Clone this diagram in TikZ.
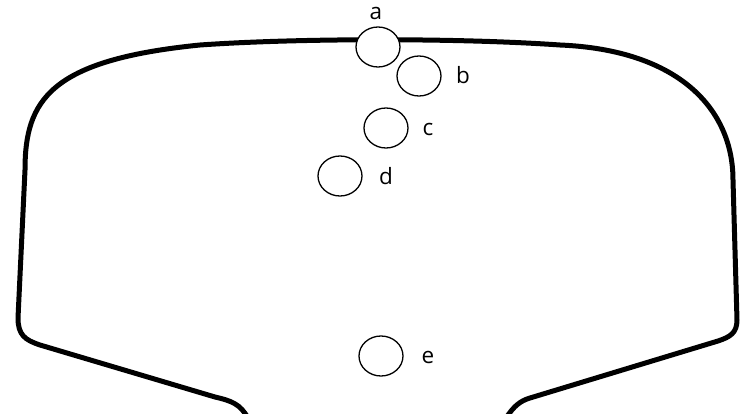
\documentclass[tikz,border=0pt]{standalone}
\usepackage{fontspec}
\setmainfont{Open Sans}
\usetikzlibrary{shapes.geometric}
\begin{document}
\begin{tikzpicture}[x=1pt,y=-1pt,
  spot/.style={draw,ellipse,line width=1.3pt,minimum width=44pt,minimum height=40pt,inner sep=0pt},
  lab/.style={font=\fontsize{22.5}{26}\selectfont,inner sep=0pt,anchor=base}]
\useasboundingbox (0,0) rectangle (740,414);
\clip (0,0) rectangle (740,414);
\draw[line width=5pt,line join=round]
  (248,418) .. controls (240,404) and (232,401) .. (215,397)
  -- (40,345) .. controls (25,340) and (18,335) .. (18,318)
  -- (25,170) .. controls (25,100) and (50,60) .. (200,45)
  .. controls (300,38) and (460,38) .. (560,45)
  .. controls (680,50) and (733,110) .. (733,180)
  -- (737,320) .. controls (737,333) and (730,337) .. (718,341)
  -- (530,398) .. controls (520,401) and (514,406) .. (506,418);
\node[spot,fill=white] (a) at (378,47) {};
\node[spot] (b) at (419,76) {};
\node[spot] (c) at (386,128) {};
\node[spot] (d) at (340,176) {};
\node[spot] (e) at (381,356) {};
\node[lab] (la) at (376,20) {a};
\node[lab] (lb) at (463,84) {b};
\node[lab] (lc) at (428,136) {c};
\node[lab] (ld) at (386,185) {d};
\node[lab] (le) at (428,364) {e};
\end{tikzpicture}
\end{document}
